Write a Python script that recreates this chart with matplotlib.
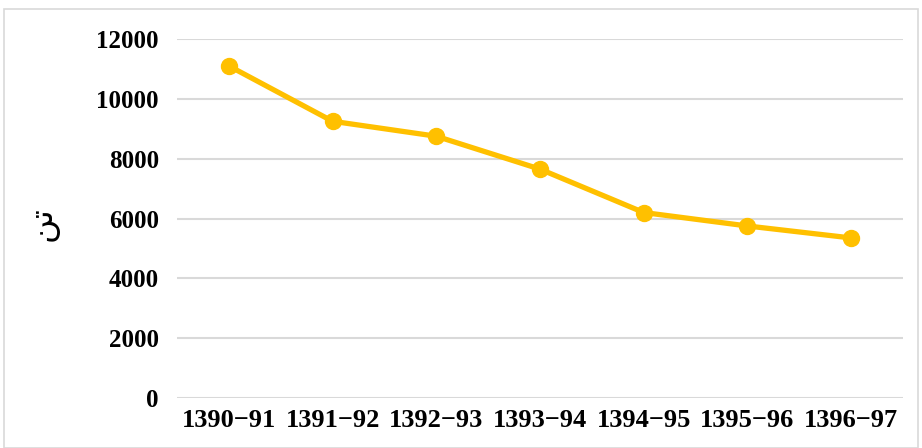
import matplotlib.pyplot as plt
from matplotlib.patches import Rectangle

# data
years = ['1390\u221291', '1391\u221292', '1392\u221293', '1393\u221294',
         '1394\u221295', '1395\u221296', '1396\u221297']
values = [11100, 9250, 8750, 7650, 6200, 5750, 5350]
y_ticks = [0, 2000, 4000, 6000, 8000, 10000, 12000]
# "تن" written with presentation forms, in visual order (matplotlib has no shaping)
y_label = '\ufee6\ufe97'

plt.rcParams['font.family'] = ['Liberation Serif', 'DejaVu Sans']

fig = plt.figure(figsize=(9.22, 4.48), dpi=100)
ax = fig.add_axes([177/922, 1 - 398/448, 726/922, 359/448])

x = range(len(years))
ax.plot(x, values, color='#FFC000', linewidth=3.8, marker='o',
        markersize=11.5, zorder=3)

ax.set_xlim(-0.5, len(years) - 0.5)
ax.set_ylim(0, 12000)
ax.set_yticks(y_ticks)
ax.set_xticks(list(x))
ax.set_xticklabels(years)
ax.grid(axis='y', color='#d9d9d9', linewidth=1.5)
ax.set_axisbelow(True)
for s in ax.spines.values():
    s.set_visible(False)
ax.tick_params(length=0, labelsize=18, pad=13)
ax.tick_params(axis='x', labelsize=19, pad=8)
for lab in ax.get_xticklabels() + ax.get_yticklabels():
    lab.set_fontweight('bold')

fig.text(42/922, 1 - 224/448, y_label, rotation=90, ha='center', va='center',
         fontsize=24, family='DejaVu Sans')

# light frame round the chart
fig.add_artist(Rectangle((4/922, 0), 914/922, 1 - 9/448, transform=fig.transFigure,
                         fill=False, edgecolor='#d9d9d9', linewidth=1.2))

fig.savefig('out.png', dpi=100)
